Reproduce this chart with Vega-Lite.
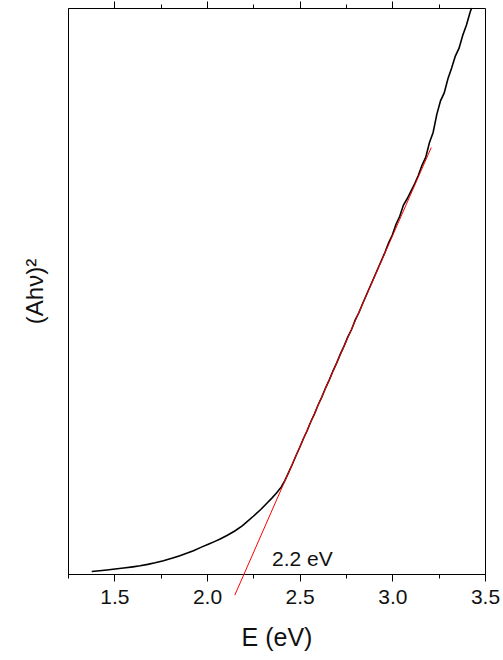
{
  "$schema": "https://vega.github.io/schema/vega-lite/v6.json",
  "autosize": {"type": "none"},
  "width": 417,
  "height": 566,
  "padding": {"left": 68, "top": 8, "right": 18, "bottom": 86},
  "background": "white",
  "config": {
    "view": {"stroke": "black", "strokeWidth": 1},
    "font": "Liberation Sans",
    "axis": {"domainColor": "black", "tickColor": "black", "labelColor": "#111", "titleColor": "#111", "grid": false, "labelFont": "Liberation Sans", "titleFont": "Liberation Sans", "titleFontWeight": "normal"}
  },
  "datasets": {
    "curve": [
      {"E": 1.378, "y": 0.45}, {"E": 1.42, "y": 0.58}, {"E": 1.46, "y": 0.72}, {"E": 1.504, "y": 0.88},
      {"E": 1.55, "y": 1.05}, {"E": 1.6, "y": 1.26}, {"E": 1.639, "y": 1.45}, {"E": 1.68, "y": 1.7},
      {"E": 1.72, "y": 1.98}, {"E": 1.765, "y": 2.35}, {"E": 1.81, "y": 2.78}, {"E": 1.85, "y": 3.2},
      {"E": 1.89, "y": 3.65}, {"E": 1.927, "y": 4.12}, {"E": 1.97, "y": 4.75}, {"E": 2.01, "y": 5.3},
      {"E": 2.04, "y": 5.72}, {"E": 2.071, "y": 6.18}, {"E": 2.11, "y": 6.85}, {"E": 2.15, "y": 7.6},
      {"E": 2.19, "y": 8.5}, {"E": 2.215, "y": 9.2}, {"E": 2.25, "y": 10.2}, {"E": 2.29, "y": 11.4},
      {"E": 2.323, "y": 12.5}, {"E": 2.35, "y": 13.4}, {"E": 2.375, "y": 14.3}, {"E": 2.4, "y": 15.35},
      {"E": 2.42, "y": 16.5}, {"E": 2.44, "y": 17.9}, {"E": 2.46, "y": 19.35}, {"E": 2.48, "y": 20.9},
      {"E": 2.5, "y": 22.35}, {"E": 2.52, "y": 23.9}, {"E": 2.54, "y": 25.3}, {"E": 2.56, "y": 26.9},
      {"E": 2.58, "y": 28.3}, {"E": 2.6, "y": 29.9}, {"E": 2.62, "y": 31.3}, {"E": 2.64, "y": 32.9},
      {"E": 2.66, "y": 34.3}, {"E": 2.68, "y": 35.9}, {"E": 2.7, "y": 37.3}, {"E": 2.72, "y": 38.9},
      {"E": 2.74, "y": 40.3}, {"E": 2.76, "y": 41.9}, {"E": 2.78, "y": 43.2}, {"E": 2.8, "y": 44.9},
      {"E": 2.82, "y": 46.2}, {"E": 2.84, "y": 47.8}, {"E": 2.86, "y": 49.3}, {"E": 2.88, "y": 50.8},
      {"E": 2.9, "y": 52.3}, {"E": 2.92, "y": 53.8}, {"E": 2.94, "y": 55.3}, {"E": 2.96, "y": 56.8},
      {"E": 2.98, "y": 58.5}, {"E": 3.0, "y": 59.9}, {"E": 3.02, "y": 61.8}, {"E": 3.04, "y": 63.2},
      {"E": 3.06, "y": 65.2}, {"E": 3.08, "y": 66.3}, {"E": 3.1, "y": 67.6}, {"E": 3.12, "y": 68.9},
      {"E": 3.14, "y": 70.4}, {"E": 3.16, "y": 72.2}, {"E": 3.18, "y": 73.6}, {"E": 3.2, "y": 76.2},
      {"E": 3.22, "y": 78.0}, {"E": 3.24, "y": 81.2}, {"E": 3.26, "y": 83.6}, {"E": 3.28, "y": 85.0},
      {"E": 3.3, "y": 87.5}, {"E": 3.32, "y": 89.4}, {"E": 3.34, "y": 91.5}, {"E": 3.36, "y": 92.9},
      {"E": 3.38, "y": 95.2}, {"E": 3.4, "y": 97.0}, {"E": 3.42, "y": 99.3}, {"E": 3.428, "y": 100.0}
    ],
    "fit": [{"E": 2.15, "y": -3.73}, {"E": 3.21, "y": 75.35}],
    "note": [{"E": 2.515, "y": 2.4, "label": "2.2 eV"}]
  },
  "resolve": {"axis": {"x": "independent"}},
  "layer": [
    {
      "data": {"name": "curve"},
      "mark": {"type": "line", "color": "black", "strokeWidth": 1.6},
      "encoding": {
        "x": {"field": "E", "type": "quantitative",
          "scale": {"domain": [1.25, 3.5], "nice": false, "zero": false},
          "axis": {"orient": "bottom", "values": [1.25, 1.5, 1.75, 2.0, 2.25, 2.5, 2.75, 3.0, 3.25, 3.5],
            "tickSize": {"condition": {"test": "round(datum.value*4) % 2 == 0", "value": 7}, "value": 4},
            "labelExpr": "round(datum.value*4) % 2 == 0 ? format(datum.value, '.1f') : ''",
            "labelFontSize": 21, "labelPadding": 5, "labelFlush": false,
            "title": "E (eV)", "titleFontSize": 25, "titlePadding": 18}},
        "y": {"field": "y", "type": "quantitative",
          "scale": {"domain": [0, 100], "nice": false},
          "axis": {"labels": false, "ticks": false, "title": "(Ahν)²", "titleFontSize": 24, "titlePadding": 21}}
      }
    },
    {
      "data": {"name": "fit"},
      "mark": {"type": "line", "color": "#ff0000", "strokeWidth": 1},
      "encoding": {
        "x": {"field": "E", "type": "quantitative",
          "axis": {"orient": "top", "values": [1.5, 1.75, 2.0, 2.25, 2.5, 2.75, 3.0, 3.25],
            "tickSize": {"condition": {"test": "round(datum.value*4) % 2 == 0", "value": 7}, "value": 4},
            "domain": false, "labels": false, "title": null}},
        "y": {"field": "y", "type": "quantitative"}
      }
    },
    {
      "data": {"name": "note"},
      "mark": {"type": "text", "fontSize": 21, "color": "#111", "baseline": "middle", "align": "center", "font": "Liberation Sans"},
      "encoding": {
        "x": {"field": "E", "type": "quantitative", "axis": null},
        "y": {"field": "y", "type": "quantitative"},
        "text": {"field": "label"}
      }
    }
  ]
}
